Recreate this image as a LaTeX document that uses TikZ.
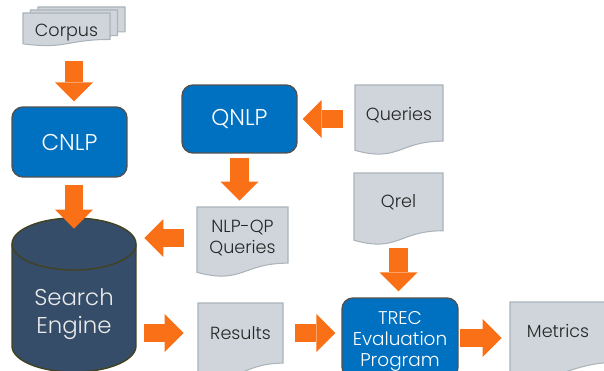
\documentclass[tikz,border=0pt]{standalone}
\usepackage{fontspec}
\setmainfont{Poppins}[UprightFont=* Light]
\usetikzlibrary{arrows.meta}

\definecolor{boxblue}{RGB}{0,112,192}
\definecolor{boxline}{RGB}{80,80,80}
\definecolor{arrorange}{RGB}{250,112,22}
\definecolor{paperfill}{RGB}{207,213,219}
\definecolor{paperline}{RGB}{170,180,186}
\definecolor{dbfill}{RGB}{53,77,105}
\definecolor{dbline}{RGB}{66,66,32}

\tikzset{
  paperdoc/.style={draw=paperline, fill=paperfill, line width=0.6pt},
  doctext/.style={inner sep=0pt, align=center, text=black!85, font=\fontsize{10}{12}\selectfont},
  bluebox/.style={draw=boxline, fill=boxblue, line width=0.8pt, rounded corners=0.22cm,
    inner sep=0pt, align=center, text=white, font=\fontsize{13}{15}\selectfont},
  bigarrow/.style={draw=arrorange, line width=0.37cm,
    -{Triangle[length=0.38cm,width=0.76cm,line width=0pt]}}
}

% sheet with a wavy lower edge: x, y (top left), width, height
\newcommand{\docsheet}[4]{%
  \draw[paperdoc] (#1,#2) -- (#1+#3,#2) -- (#1+#3,#2+0.802*#4)
    .. controls (#1+0.5*#3,#2+0.802*#4) and (#1+0.5*#3,#2+1.107*#4) .. (#1,#2+0.934*#4) -- cycle;}

\begin{document}
\begin{tikzpicture}[x=0.02cm, y=-0.02cm]
  \useasboundingbox (0,0) rectangle (604,371);

  % input documents
  \docsheet{38}{7}{87}{31}
  \docsheet{30.5}{10}{87}{32}
  \docsheet{23}{13}{87}{33}
  \node[doctext, minimum width=1.74cm, minimum height=0.52cm] (corpus) at (66.5,33) {Corpus};

  \docsheet{355}{85}{88}{70}
  \node[doctext, minimum width=1.76cm, minimum height=1.08cm] (queries) at (399,115) {Queries};

  \docsheet{197}{207}{91}{70}
  \node[doctext, minimum width=1.82cm, minimum height=1.0cm] (nlpqp) at (242.5,238) {NLP-QP\\Queries};

  \docsheet{354}{173}{89}{72}
  \node[doctext, minimum width=1.78cm, minimum height=1.0cm] (qrel) at (398.5,202) {Qrel};

  \docsheet{198}{303}{85}{75}
  \node[doctext, minimum width=1.7cm, minimum height=1.0cm] (results) at (240.5,333) {Results};

  \docsheet{510}{302}{110}{75}
  \node[doctext, minimum width=1.92cm, minimum height=1.0cm] (metrics) at (558,331) {Metrics};

  % processing boxes
  \node[bluebox, minimum width=2.3cm, minimum height=1.4cm] (cnlp) at (69.5,142) {CNLP};
  \node[bluebox, minimum width=2.3cm, minimum height=1.36cm] (qnlp) at (239.5,119) {QNLP};
  \node[bluebox, minimum width=2.32cm, minimum height=1.6cm, font=\fontsize{10.5}{12}\selectfont]
    (trec) at (400,338) {\raisebox{-2pt}[\height][\depth]{\begin{tabular}{@{}c@{}}TREC\\Evaluation\\Program\end{tabular}}};

  % search engine
  \fill[dbfill] (12,244) -- (12,346) arc[start angle=180, end angle=360, x radius=1.24cm, y radius=0.52cm] -- (136,244) -- cycle;
  \draw[dbline, line width=0.8pt] (12,244) -- (12,346) arc[start angle=180, end angle=360, x radius=1.24cm, y radius=0.52cm] -- (136,244);
  \draw[dbline, fill=dbfill, line width=0.8pt] (74,244) ellipse[x radius=1.24cm, y radius=0.52cm];
  \node[inner sep=0pt, align=center, text=white!92!black, font=\fontsize{13}{15.5}\selectfont,
    minimum width=2.48cm, minimum height=3.4cm] (search) at (74,314)
    {\begin{tabular}{@{}c@{}}Search\\Engine\end{tabular}};

  % flow
  \draw[bigarrow, shorten <=0.3cm, shorten >=0.1cm] (search.north |- corpus.south) -- (search.north |- cnlp.north);
  \draw[bigarrow, shorten <=0.14cm] (search.north |- cnlp.south) -- (search.north);
  \draw[bigarrow, shorten <=0.24cm, shorten >=0.1cm] (queries.west |- qnlp.east) -- (qnlp.east);
  \draw[bigarrow, shorten <=0.08cm, shorten >=0.24cm] (qnlp.south) -- (qnlp.south |- nlpqp.north);
  \draw[bigarrow, shorten <=0.26cm, shorten >=0.16cm] (nlpqp.west) -- (search.east |- nlpqp.west);
  \draw[bigarrow, shorten <=0.16cm, shorten >=0.28cm] (search.east |- results.west) -- (results.west);
  \draw[bigarrow, shorten <=0.24cm, shorten >=0.12cm] (results.east) -- (trec.west |- results.east);
  \draw[bigarrow, shorten <=0.42cm, shorten >=0.12cm] (qrel.south) -- (qrel.south |- trec.north);
  \draw[bigarrow, shorten <=0.02cm, shorten >=0.16cm] (trec.east) -- (metrics.west |- trec.east);
\end{tikzpicture}
\end{document}
